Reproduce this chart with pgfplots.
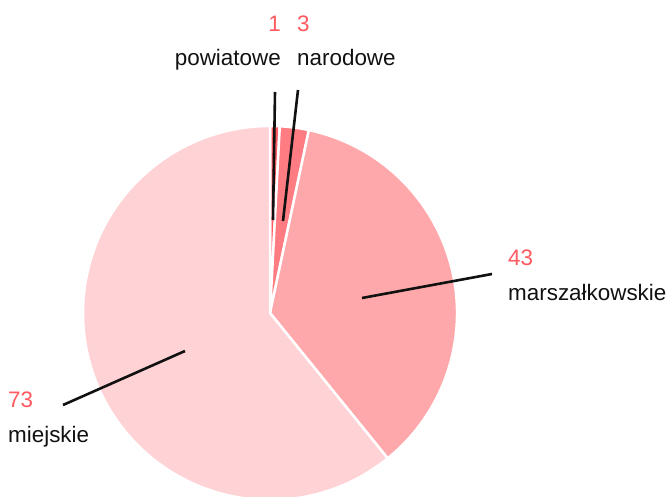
\documentclass[border=0pt]{standalone}
\usepackage{pgfplots}
\pgfplotsset{compat=1.18}
\usepackage{pgfplotstable}
\usepackage{fontspec}
\setmainfont{Liberation Sans}
\definecolor{slice0}{HTML}{FF5C63}
\definecolor{slice1}{HTML}{FF7D82}
\definecolor{slice2}{HTML}{FFA8AB}
\definecolor{slice3}{HTML}{FFD2D5}
\definecolor{numcol}{HTML}{FF5A5F}
\definecolor{txtcol}{HTML}{111111}
\pgfplotstableread{
value label
1 powiatowe
3 narodowe
43 marszałkowskie
73 miejskie
}\piedata
\begin{document}
\begin{tikzpicture}
\begin{axis}[x=1bp, y=1bp, xmin=0, xmax=669, ymin=0, ymax=497,
  hide axis, clip=true, at={(0,0)}, anchor=south west]
\pgfplotsextra{
  \def\total{0}
  \pgfplotsforeachungrouped \i in {0,...,3}{
    \pgfplotstablegetelem{\i}{value}\of\piedata
    \pgfmathsetmacro\total{\total+\pgfplotsretval}
  }
  \pgfmathsetmacro\degper{360/\total}
  \def\cum{0}
  \pgfplotsforeachungrouped \i in {0,...,3}{
    \pgfplotstablegetelem{\i}{value}\of\piedata
    \let\sliceval\pgfplotsretval
    \pgfmathsetmacro\aA{90-\cum*\degper}
    \pgfmathsetmacro\aB{90-(\cum+\sliceval)*\degper}
    \filldraw[fill=slice\i, draw=white, line width=2.5bp, line join=round]
      (axis cs:270,184) -- ++(\aA:187bp) arc[start angle=\aA, end angle=\aB, radius=187bp] -- cycle;
    \pgfmathsetmacro\cum{\cum+\sliceval}
  }
}
% leader lines
\addplot[txtcol, line width=2.6bp] coordinates {(273,277) (275,405)};
\addplot[txtcol, line width=2.6bp] coordinates {(283,276) (298,407)};
\addplot[txtcol, line width=2.6bp] coordinates {(362,199) (492,223)};
\addplot[txtcol, line width=2.6bp] coordinates {(185,146) (63,92)};
% labels
\begin{scope}[font=\fontsize{22.5}{26}\selectfont]
\node[anchor=base east, inner sep=0pt, text=numcol] at (axis cs:281,465) {1};
\node[anchor=base east, inner sep=0pt, text=txtcol] at (axis cs:281,431) {powiatowe};
\node[anchor=base west, inner sep=0pt, text=numcol] at (axis cs:297,465) {3};
\node[anchor=base west, inner sep=0pt, text=txtcol] at (axis cs:297,431) {narodowe};
\node[anchor=base west, inner sep=0pt, text=numcol] at (axis cs:508,232) {43};
\node[anchor=base west, inner sep=0pt, text=txtcol] at (axis cs:508,197) {marszałkowskie};
\node[anchor=base west, inner sep=0pt, text=numcol] at (axis cs:8,90) {73};
\node[anchor=base west, inner sep=0pt, text=txtcol] at (axis cs:8,55) {miejskie};
\end{scope}
\end{axis}
\pgfresetboundingbox
\useasboundingbox (0,0) rectangle (669bp,497bp);
\end{tikzpicture}
\end{document}
